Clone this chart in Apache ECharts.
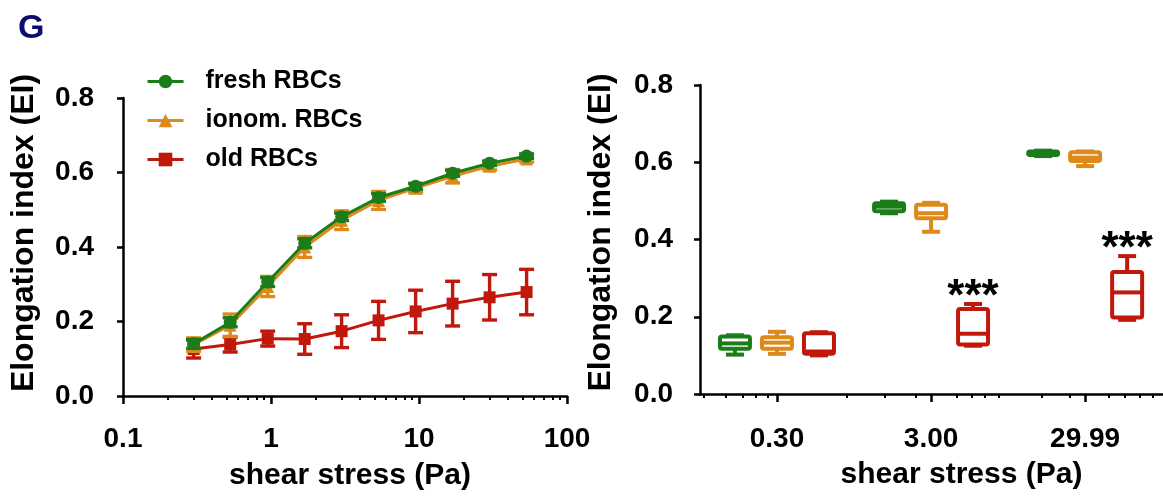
<!DOCTYPE html>
<html>
<head>
<meta charset="utf-8">
<script src="https://cdn.jsdelivr.net/npm/echarts@6/dist/echarts.min.js"></script>
<style>
  html, body { margin: 0; padding: 0; background: #fff; }
  #chart { width: 1163px; height: 498px; }
</style>
</head>
<body>
<div id="chart"></div>
<script>
// ---- Deformability curve (left panel) ----
const stress = [0.30, 0.53, 0.95, 1.69, 3.00, 5.33, 9.49, 16.87, 29.99, 53.33];
const freshMean = [0.140, 0.198, 0.306, 0.410, 0.481, 0.533, 0.563, 0.598, 0.625, 0.644];
const freshSd   = [0.012, 0.012, 0.012, 0.012, 0.010, 0.010, 0.008, 0.008, 0.006, 0.006];
const ionomMean = [0.138, 0.190, 0.294, 0.400, 0.472, 0.525, 0.558, 0.590, 0.617, 0.636];
const ionomSd   = [0.018, 0.030, 0.027, 0.028, 0.025, 0.024, 0.012, 0.018, 0.010, 0.008];
const oldMean   = [0.126, 0.138, 0.154, 0.153, 0.174, 0.203, 0.227, 0.248, 0.265, 0.279];
const oldSd     = [0.024, 0.020, 0.020, 0.041, 0.044, 0.051, 0.057, 0.060, 0.061, 0.061];

const curveMajorTicks = [0.1, 1, 10, 100];
const curveMinorTicks = [0.2, 0.3, 0.4, 0.5, 0.6, 0.7, 0.8, 0.9,
                         2, 3, 4, 5, 6, 7, 8, 9,
                         20, 30, 40, 50, 60, 70, 80, 90];

// ---- Box plots at three shear stresses (right panel) ----
const boxStress = [0.30, 3.00, 29.99];
const boxLabels = ['0.30', '3.00', '29.99'];
// [min, q1, median, q3, max]
const freshBox = [[0.102, 0.117, 0.131, 0.149, 0.152], [0.468, 0.473, 0.485, 0.494, 0.498], [0.616, 0.619, 0.623, 0.628, 0.630]];
const ionomBox = [[0.104, 0.117, 0.133, 0.147, 0.161], [0.420, 0.455, 0.468, 0.490, 0.495], [0.590, 0.603, 0.612, 0.626, 0.628]];
const oldBox   = [[0.100, 0.104, 0.110, 0.157, 0.160], [0.125, 0.128, 0.156, 0.220, 0.233], [0.192, 0.198, 0.263, 0.316, 0.357]];
const significance = ['', '***', '***'];
const boxMajorTicks = [0.30, 3.00, 29.99];
const boxMinorTicks = [0.1, 0.14, 0.18, 0.22, 0.26, 0.85, 1.5, 2.4, 4.4, 5.5, 6.7, 8.2, 15.6, 24, 43, 54, 68, 82];

const GREEN = '#1a7d1a';
const ORANGE = '#dd8a1a';
const RED = '#c0190c';
const FONT = '"Liberation Sans", Arial, Helvetica, sans-serif';

const chart = echarts.init(document.getElementById('chart'), null, { renderer: 'canvas' });

function errorBars(color) {
  return function (params, api) {
    const x = api.value(0), m = api.value(1), s = api.value(2);
    const top = api.coord([x, m + s]);
    const bot = api.coord([x, m - s]);
    const hw = 7.5;
    const style = { stroke: color, lineWidth: 3.4, lineCap: 'butt' };
    return {
      type: 'group',
      children: [
        { type: 'line', shape: { x1: top[0], y1: top[1], x2: bot[0], y2: bot[1] }, style },
        { type: 'line', shape: { x1: top[0] - hw, y1: top[1], x2: top[0] + hw, y2: top[1] }, style },
        { type: 'line', shape: { x1: bot[0] - hw, y1: bot[1], x2: bot[0] + hw, y2: bot[1] }, style }
      ]
    };
  };
}

function boxItem(color, dx, marks) {
  return function (params, api) {
    const x = api.value(0);
    const pMin = api.coord([x, api.value(1)]);
    const pQ1 = api.coord([x, api.value(2)]);
    const pMed = api.coord([x, api.value(3)]);
    const pQ3 = api.coord([x, api.value(4)]);
    const pMax = api.coord([x, api.value(5)]);
    const cx = pMin[0] + dx;
    const hw = 15, cap = 9;
    const style = { stroke: color, lineWidth: 4, fill: null, lineJoin: 'round' };
    const children = [
      { type: 'line', shape: { x1: cx, y1: pQ3[1], x2: cx, y2: pMax[1] }, style },
      { type: 'line', shape: { x1: cx, y1: pQ1[1], x2: cx, y2: pMin[1] }, style },
      { type: 'line', shape: { x1: cx - cap, y1: pMax[1], x2: cx + cap, y2: pMax[1] }, style },
      { type: 'line', shape: { x1: cx - cap, y1: pMin[1], x2: cx + cap, y2: pMin[1] }, style },
      { type: 'rect', shape: { x: cx - hw, y: pQ3[1], width: 2 * hw, height: pQ1[1] - pQ3[1], r: 2 },
        style: { stroke: color, lineWidth: 4, fill: '#fff', lineJoin: 'round' } },
      { type: 'line', shape: { x1: cx - hw, y1: pMed[1], x2: cx + hw, y2: pMed[1] }, style }
    ];
    const mark = marks ? marks[params.dataIndex] : '';
    if (mark) {
      children.push({
        type: 'text',
        style: {
          text: mark, x: cx, y: pMax[1] - 6,
          align: 'center', verticalAlign: 'middle',
          font: 'bold 44px ' + FONT, fill: '#000'
        }
      });
    }
    return { type: 'group', children };
  };
}

const toPairs = (means) => stress.map((x, i) => [x, means[i]]);
const toErr = (means, sds) => stress.map((x, i) => [x, means[i], sds[i]]);
const toBox = (boxes) => boxStress.map((x, i) => [x].concat(boxes[i]));

const labelStyle = { color: '#000', fontFamily: FONT, fontWeight: 'bold', fontSize: 28 };
const nameStyle = { color: '#000', fontFamily: FONT, fontWeight: 'bold', fontSize: 30 };
const axisLine = { show: true, onZero: false, lineStyle: { color: '#000', width: 2.5 } };

function yAxisFor(gridIndex, padLeft, margin) {
  return {
    type: 'value', gridIndex, min: 0, max: 0.8, interval: 0.2,
    axisLine,
    axisTick: { show: true, inside: false, length: 6, lineStyle: { color: '#000', width: 2.5 } },
    axisLabel: Object.assign({ margin, formatter: (v) => v.toFixed(1) }, labelStyle),
    splitLine: { show: false },
    name: 'Elongation index (EI)', nameLocation: 'middle', nameRotate: 90, nameGap: 83,
    nameMoveOverlap: false,
    nameTextStyle: Object.assign({}, nameStyle, { fontSize: 32, padding: [0, 0, 0, padLeft] })
  };
}

const option = {
  backgroundColor: '#fff',
  animation: false,
  title: {
    text: 'G', left: 13, top: 7,
    textStyle: { color: '#0c0c70', fontFamily: FONT, fontWeight: 'bold', fontSize: 34 }
  },
  legend: {
    orient: 'vertical', left: 141, top: 63,
    itemWidth: 36, itemHeight: 17, itemGap: 12,
    data: ['fresh RBCs', 'ionom. RBCs', 'old RBCs'],
    lineStyle: { width: 3 },
    textStyle: { color: '#000', fontFamily: FONT, fontWeight: 'bold', fontSize: 25, lineHeight: 27, padding: [0, 0, 0, 17] }
  },
  grid: [
    { left: 123, top: 98, width: 444, height: 298, outerBoundsMode: 'none' },
    { left: 700, top: 85, width: 463, height: 309, outerBoundsMode: 'none' }
  ],
  xAxis: [
    {
      type: 'log', logBase: 10, gridIndex: 0, min: 0.1, max: 100, position: 'bottom',
      axisLine,
      axisTick: { show: true, customValues: curveMajorTicks, length: 8, lineStyle: { color: '#000', width: 2.5 } },
      axisLabel: Object.assign({ margin: 29, customValues: curveMajorTicks, formatter: (v) => String(+v.toPrecision(3)) }, labelStyle),
      splitLine: { show: false },
      name: 'shear stress (Pa)', nameLocation: 'middle', nameGap: 65, nameMoveOverlap: false,
      nameTextStyle: Object.assign({}, nameStyle, { padding: [0, 0, 0, 10] })
    },
    {
      type: 'log', logBase: 10, gridIndex: 0, min: 0.1, max: 100, position: 'bottom',
      axisLine: { show: false, onZero: false },
      axisTick: { show: true, customValues: curveMinorTicks, length: 4, lineStyle: { color: '#000', width: 2 } },
      axisLabel: { show: false },
      splitLine: { show: false }
    },
    {
      type: 'log', logBase: 10, gridIndex: 1, min: 0.095, max: 96, position: 'bottom',
      axisLine,
      axisTick: { show: true, customValues: boxMajorTicks, length: 8, lineStyle: { color: '#000', width: 2.5 } },
      axisLabel: Object.assign({
        margin: 31, customValues: boxMajorTicks,
        formatter: (v) => {
          let best = 0;
          boxStress.forEach((s, i) => { if (Math.abs(Math.log(s / v)) < Math.abs(Math.log(boxStress[best] / v))) best = i; });
          return boxLabels[best];
        }
      }, labelStyle),
      splitLine: { show: false },
      name: 'shear stress (Pa)', nameLocation: 'middle', nameGap: 66, nameMoveOverlap: false,
      nameTextStyle: Object.assign({}, nameStyle, { padding: [0, 0, 0, 60] })
    },
    {
      type: 'log', logBase: 10, gridIndex: 1, min: 0.095, max: 96, position: 'bottom',
      axisLine: { show: false, onZero: false },
      axisTick: { show: true, customValues: boxMinorTicks, length: 4, lineStyle: { color: '#000', width: 2 } },
      axisLabel: { show: false },
      splitLine: { show: false }
    }
  ],
  yAxis: [yAxisFor(0, 28, 29), yAxisFor(1, 14, 27)],
  series: [
    { type: 'custom', name: 'old-err', xAxisIndex: 0, yAxisIndex: 0, renderItem: errorBars(RED),
      data: toErr(oldMean, oldSd), encode: { x: 0, y: 1 }, z: 2 },
    { type: 'line', name: 'old RBCs', xAxisIndex: 0, yAxisIndex: 0, data: toPairs(oldMean),
      symbol: 'rect', symbolSize: 12, lineStyle: { color: RED, width: 3 }, itemStyle: { color: RED }, z: 3 },
    { type: 'custom', name: 'ionom-err', xAxisIndex: 0, yAxisIndex: 0, renderItem: errorBars(ORANGE),
      data: toErr(ionomMean, ionomSd), encode: { x: 0, y: 1 }, z: 4 },
    { type: 'line', name: 'ionom. RBCs', xAxisIndex: 0, yAxisIndex: 0, data: toPairs(ionomMean),
      symbol: 'triangle', symbolSize: 13, lineStyle: { color: ORANGE, width: 3 }, itemStyle: { color: ORANGE }, z: 5 },
    { type: 'custom', name: 'fresh-err', xAxisIndex: 0, yAxisIndex: 0, renderItem: errorBars(GREEN),
      data: toErr(freshMean, freshSd), encode: { x: 0, y: 1 }, z: 6 },
    { type: 'line', name: 'fresh RBCs', xAxisIndex: 0, yAxisIndex: 0, data: toPairs(freshMean),
      symbol: 'circle', symbolSize: 13, lineStyle: { color: GREEN, width: 3 }, itemStyle: { color: GREEN }, z: 7 },

    { type: 'custom', name: 'fresh-box', xAxisIndex: 2, yAxisIndex: 1, renderItem: boxItem(GREEN, -42, null),
      data: toBox(freshBox), encode: { x: 0, y: [1, 2, 3, 4, 5] } },
    { type: 'custom', name: 'ionom-box', xAxisIndex: 2, yAxisIndex: 1, renderItem: boxItem(ORANGE, 0, null),
      data: toBox(ionomBox), encode: { x: 0, y: [1, 2, 3, 4, 5] } },
    { type: 'custom', name: 'old-box', xAxisIndex: 2, yAxisIndex: 1, renderItem: boxItem(RED, 42, significance),
      data: toBox(oldBox), encode: { x: 0, y: [1, 2, 3, 4, 5] } }
  ]
};

chart.setOption(option);
</script>
</body>
</html>
